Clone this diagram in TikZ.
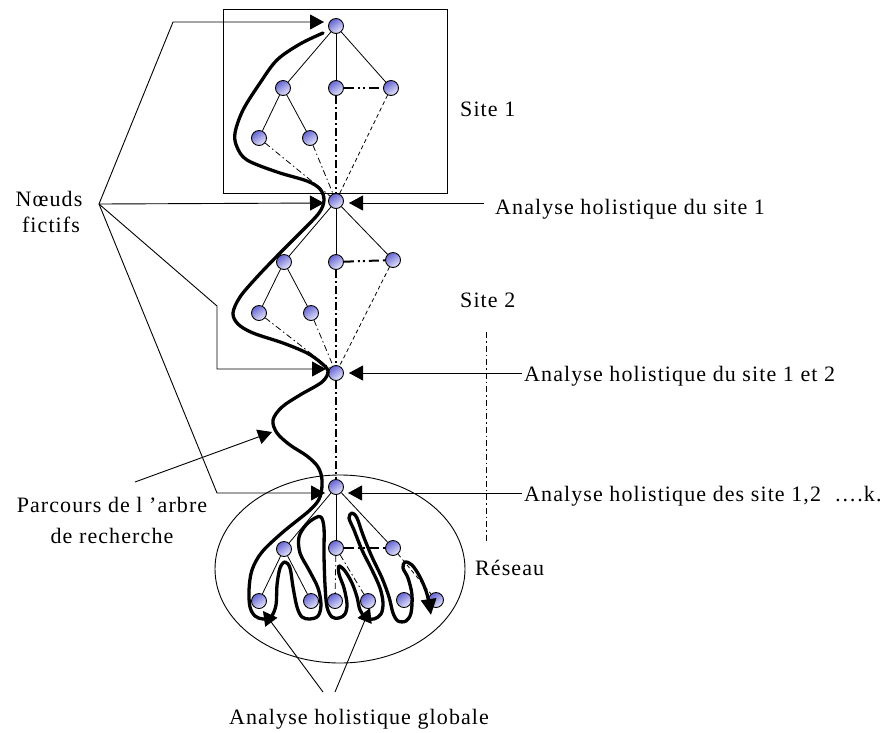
\documentclass[tikz,border=0pt]{standalone}
\usepackage{fontspec}
\setmainfont{Liberation Serif}[LetterSpace=5]
\usetikzlibrary{arrows.meta}
\definecolor{nodedark}{RGB}{100,100,210}
\definecolor{nodelight}{RGB}{232,232,250}
\begin{document}
\begin{tikzpicture}[x=1pt,y=-1pt,
  vertex/.style={circle,draw=black,line width=0.9pt,minimum size=15pt,inner sep=0pt,
    shading=axis,top color=nodedark,bottom color=nodelight,shading angle=35},
  edge/.style={line width=0.8pt},
  thindd/.style={line width=0.8pt,dash pattern=on 6pt off 3pt on 1.5pt off 3pt},
  thickdd/.style={line width=2pt,dash pattern=on 8pt off 3pt on 2pt off 3pt},
  thickddd/.style={line width=2pt,dash pattern=on 10pt off 4pt on 2pt off 3pt on 2pt off 4pt},
  thindash/.style={line width=0.8pt,dash pattern=on 4pt off 3pt},
  ptr/.style={line width=0.9pt,-{Triangle[length=14pt,width=15pt]}},
  trav/.style={line width=3.3pt,line cap=round,line join=round},
  lbl/.style={inner sep=0pt,font=\fontsize{22}{26}\selectfont}]
\useasboundingbox (0,0) rectangle (886,732);

% site boxes and network boundary
\draw[line width=1pt] (223,9) rectangle (447,193);
\draw[line width=0.9pt] (340,569) ellipse [x radius=125, y radius=94];
\draw[thindd] (486,332) -- (486,543);

% ---- site 1 tree
\node[vertex] (a0) at (336,26) {};
\node[vertex] (a1) at (283,88) {};
\node[vertex] (a2) at (336,88) {};
\node[vertex] (a3) at (391,88) {};
\node[vertex] (a4) at (259,138) {};
\node[vertex] (a5) at (310,138) {};
\node[vertex] (n1) at (336,201) {};
\draw[edge] (a0) -- (a1); \draw[edge] (a0) -- (a2); \draw[edge] (a0) -- (a3);
\draw[edge] (a1) -- (a4); \draw[edge] (a1) -- (a5);
\draw[thickddd] (a2) -- (a3);
\draw[thickdd] (a2) -- (n1);
\draw[thindd] (a4) -- (n1); \draw[thindd] (a5) -- (n1);
\draw[thindash] (a3) -- (n1);

% ---- site 2 tree
\node[vertex] (b1) at (284,262) {};
\node[vertex] (b2) at (336,262) {};
\node[vertex] (b3) at (393,260) {};
\node[vertex] (b4) at (259,313) {};
\node[vertex] (b5) at (311,313) {};
\node[vertex] (n2) at (336,373) {};
\draw[edge] (n1) -- (b1); \draw[edge] (n1) -- (b2); \draw[edge] (n1) -- (b3);
\draw[edge] (b1) -- (b4); \draw[edge] (b1) -- (b5);
\draw[thickddd] (b2) -- (b3);
\draw[thickdd] (b2) -- (n2);
\draw[thindd] (b4) -- (n2); \draw[thindd] (b5) -- (n2);
\draw[thindash] (b3) -- (n2);

% ---- global tree
\node[vertex] (n3) at (336,487) {};
\node[vertex] (c1) at (284,549) {};
\node[vertex] (c2) at (336,548) {};
\node[vertex] (c3) at (393,548) {};
\node[vertex] (d1) at (259,601) {};
\node[vertex] (d2) at (311,601) {};
\node[vertex] (d3) at (335,601) {};
\node[vertex] (d4) at (368,601) {};
\node[vertex] (d5) at (404,600) {};
\node[vertex] (d6) at (436,600) {};
\draw[thickdd] (n2) -- (n3);
\draw[edge] (n3) -- (c1); \draw[edge] (n3) -- (c2); \draw[edge] (n3) -- (c3);
\draw[edge] (c1) -- (d1); \draw[edge] (c1) -- (d2);
\draw[thickddd] (c2) -- (c3);
\draw[thindd] (c2) -- (d3); \draw[thindd] (c2) -- (d4);
\draw[thindash] (c3) -- (d6);

% ---- traversal of the search tree
\draw[trav,-{Triangle[length=16pt,width=15pt]}] plot[smooth,tension=0.55] coordinates {
 (323,33) (300,44) (277,60) (260,83) (243,110) (235,133) (237,147) (247,160)
 (277,172) (307,181) (320,189) (324,200) (319,213) (300,233) (280,253) (257,277)
 (240,297) (233,313) (238,324) (253,333) (283,343) (307,353) (320,362) (328,371)
 (322,382) (300,395) (282,407) (273,420) (277,433) (290,445) (307,456) (318,467)
 (322,480) (320,497) (310,510) (283,532) (262,552) (252,570) (249,590) (250,607)
 (255,616) (263,619) (271,617) (276,605) (277,585) (280,568) (285,562) (290,568)
 (293,587) (297,607) (302,617) (310,619) (318,616) (321,605) (318,588) (309,570)
 (300,553) (299,537) (306,525) (315,518) (321,517) (324,528) (324,555) (325,585)
 (327,607) (332,617) (339,618) (345,614) (347,604) (344,588) (339,574) (339,566)
 (345,571) (352,583) (357,597) (360,610) (366,618) (374,619) (381,614) (383,603)
 (380,588) (372,570) (362,550) (354,530) (349,518) (352,513) (357,518) (363,535)
 (372,557) (382,578) (389,597) (393,613) (398,621) (406,621) (411,613) (412,595)
 (408,578) (403,568) (405,562) (412,565) (420,577) (427,594) (431,615)};

% ---- labels
\node[lbl,anchor=base west] (s1) at (460,116) {Site 1};
\node[lbl,anchor=base west] (s2) at (460,307) {Site 2};
\node[lbl,anchor=base west] (res) at (475,575) {Réseau};
\node[lbl,anchor=base west] (h1) at (495,214) {Analyse holistique du site 1};
\node[lbl,anchor=base west] (h2) at (524,381) {Analyse holistique du site 1 et 2};
\node[lbl,anchor=base west] (h3) at (524,501) {Analyse holistique des site 1,2 \ ….k.};
\node[lbl,anchor=base] (nf1) at (49,206) {Nœuds};
\node[lbl,anchor=base] (nf2) at (51,232) {fictifs};
\node[lbl,anchor=base] (pa1) at (112,512) {Parcours de l ’arbre};
\node[lbl,anchor=base] (pa2) at (112,543) {de recherche};
\node[lbl,anchor=base] (gl) at (359,724) {Analyse holistique globale};

% ---- pointers
\coordinate (nf) at (99,204);
\coordinate (p0) at (324,22);
\coordinate (p1) at (324,203);
\coordinate (p2) at (326,369);
\coordinate (p3) at (325,493);
\coordinate (q1) at (349,203);
\coordinate (q2) at (349,373);
\coordinate (q3) at (348,493);
\coordinate (h1s) at (484,203);
\coordinate (h2s) at (522,373);
\coordinate (h3s) at (522,493);
\coordinate (pas) at (135,482);
\coordinate (pat) at (272,432);
\coordinate (gls) at (323,692);
\coordinate (glt) at (335,692);
\coordinate (g1) at (263,611);
\coordinate (g2) at (370,608);
\draw[ptr] (nf) -- (173,22) -- (p0);
\draw[ptr] (nf) -- (p1);
\draw[ptr] (nf) -- (217,306) -- (217,369) -- (p2);
\draw[ptr] (nf) -- (217,493) -- (p3);
\draw[ptr] (h1s) -- (q1);
\draw[ptr] (h2s) -- (q2);
\draw[ptr] (h3s) -- (q3);
\draw[ptr] (pas) -- (pat);
\draw[ptr] (gls) -- (g1);
\draw[ptr] (glt) -- (g2);
\end{tikzpicture}
\end{document}
